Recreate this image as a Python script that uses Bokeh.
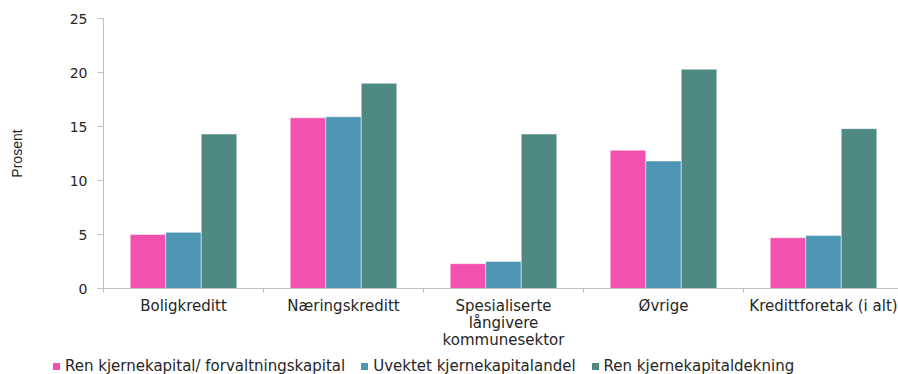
from bokeh.plotting import figure
from bokeh.layouts import column
from bokeh.models import ColumnDataSource, FixedTicker, Range1d, Div
from bokeh.embed import file_html
from bokeh.resources import INLINE

# Data
categories = ["Boligkreditt", "Næringskreditt", "Spesialiserte\nlångivere\nkommunesektor",
              "Øvrige", "Kredittforetak (i alt)"]
series_names = ["Ren kjernekapital/ forvaltningskapital", "Uvektet kjernekapitalandel",
                "Ren kjernekapitaldekning"]
ren_forvaltning = [5.0, 15.8, 2.3, 12.8, 4.7]
uvektet_andel = [5.2, 15.9, 2.5, 11.8, 4.9]
ren_dekning = [14.3, 19.0, 14.3, 20.3, 14.8]
colors = ["#F150AE", "#4C96B4", "#4E8983"]
y_ticks = [0, 5, 10, 15, 20, 25]

series = [ren_forvaltning, uvektet_andel, ren_dekning]
centers = [i + 0.5 for i in range(len(categories))]
bar_w = 0.222
offsets = [-bar_w, 0.0, bar_w]

FONT = "DejaVu Sans"
TEXT = "#262626"
AXIS = "#BFBFBF"

p = figure(frame_width=795, frame_height=270, output_backend="svg", toolbar_location=None,
           x_range=Range1d(0, 795 / 160), y_range=Range1d(0, 25),
           min_border_left=103, min_border_right=0, min_border_top=18, min_border_bottom=62)
p.outline_line_color = None
p.grid.visible = False

for vals, off, col in zip(series, offsets, colors):
    src = ColumnDataSource(dict(x=[c + off for c in centers], top=vals))
    p.vbar(x="x", top="top", bottom=0, width=bar_w, source=src,
           fill_color=col, line_color="white", line_alpha=0.6, line_width=0.8)

# x axis: category labels at group centers, small ticks between groups
xa = p.xaxis[0]
xa.ticker = FixedTicker(ticks=centers, minor_ticks=list(range(len(categories) + 1)))
xa.major_label_overrides = {c: lab for c, lab in zip(centers, categories)}
xa.major_tick_out = 0
xa.major_tick_in = 0
xa.minor_tick_out = 4
xa.minor_tick_in = 0
xa.minor_tick_line_color = AXIS
xa.axis_line_color = AXIS
xa.major_label_standoff = 4
xa.major_label_text_font = FONT
xa.major_label_text_font_size = "15px"
xa.major_label_text_line_height = 0.95
xa.major_label_text_color = TEXT

ya = p.yaxis[0]
ya.ticker = FixedTicker(ticks=y_ticks)
ya.minor_tick_line_color = None
ya.major_tick_out = 6
ya.major_tick_in = 0
ya.major_tick_line_color = AXIS
ya.axis_line_color = AXIS
ya.major_label_standoff = 10
ya.major_label_text_font = FONT
ya.major_label_text_font_size = "14px"
ya.major_label_text_color = TEXT
ya.axis_label = "Prosent"
ya.axis_label_text_font = "Liberation Sans"
ya.axis_label_text_font_size = "14px"
ya.axis_label_text_font_style = "normal"
ya.axis_label_text_color = TEXT
ya.axis_label_standoff = 42

# Legend strip under the chart: colour swatch + series name per item
items_html = ""
for name, col in zip(series_names, colors):
    items_html += (
        f'<span style="display:inline-block;width:7px;height:7px;background:{col};'
        f'margin-right:5px;vertical-align:middle"></span>'
        f'<span style="display:inline-block;margin-right:16px;vertical-align:middle">{name}</span>'
    )
legend_div = Div(
    text=(f'<div style="font-family:\'{FONT}\',sans-serif;font-size:15px;color:{TEXT};'
          f'padding-left:53px;padding-top:7px;line-height:17px;white-space:nowrap">'
          f'{items_html}</div>'),
    width=898, height=24, margin=(0, 0, 0, 0))

layout = column(p, legend_div, spacing=0)
open("out.html", "w").write(file_html(layout, INLINE))
